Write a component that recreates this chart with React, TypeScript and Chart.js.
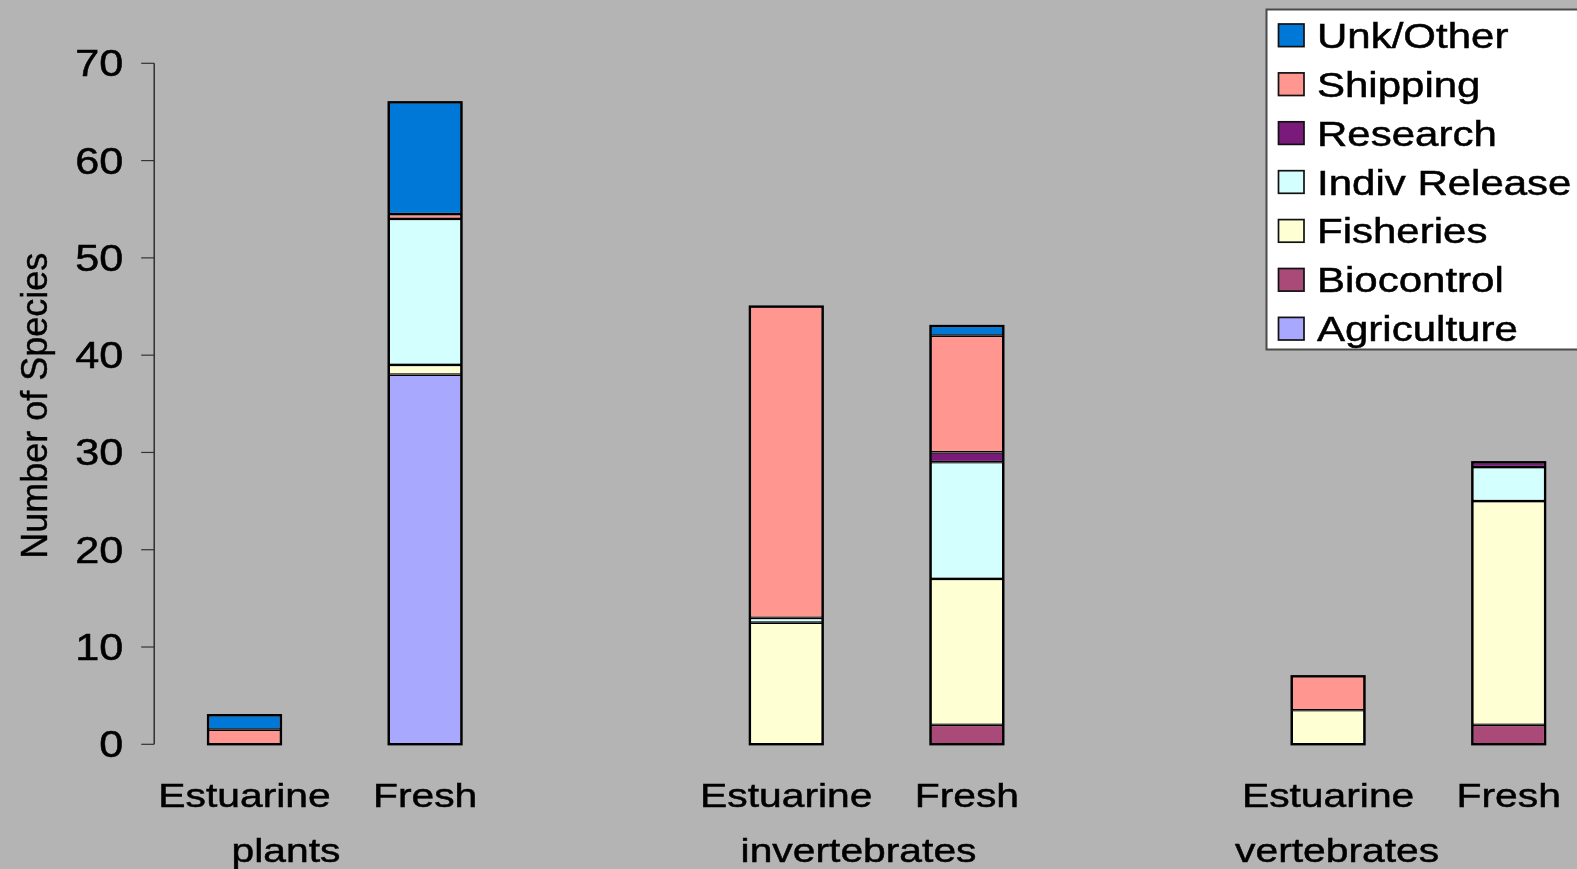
import React, { useEffect, useRef } from "react";
import { Chart, registerables } from "chart.js";

Chart.register(...registerables);

// Category slots along the x axis (blank slots separate the three groups)
const CATEGORIES = ["Estuarine", "Fresh", "", "Estuarine", "Fresh", "", "Estuarine", "Fresh"];
const GROUPS = ["plants", "invertebrates", "vertebrates"];
const Y_TICKS = [0, 10, 20, 30, 40, 50, 60, 70];

// Number of species by introduction vector (stacked bottom to top)
const AGRICULTURE = [null, 38, null, null, null, null, null, null];
const BIOCONTROL = [null, null, null, null, 2, null, null, 2];
const FISHERIES = [null, 1, null, 12.5, 15, null, 3.5, 23];
const INDIV_RELEASE = [null, 15, null, 0.5, 12, null, null, 3.5];
const RESEARCH = [null, null, null, null, 1, null, null, 0.5];
const SHIPPING = [1.5, 0.5, null, 32, 12, null, 3.5, null];
const UNK_OTHER = [1.5, 11.5, null, null, 1, null, null, null];

// Where each group caption sits, in category-index units
const GROUP_AT = [0.23, 3.4, 6.05];

const W = 1620;
const H = 869;
const BG = "#b4b4b4";
const FONT = "'Liberation Sans', Arial, Helvetica, sans-serif";
const STRETCH = 1.2;

function wideText(ctx: CanvasRenderingContext2D, text: string, x: number, y: number, size: number, align: CanvasTextAlign) {
  ctx.save();
  ctx.translate(x, y);
  ctx.scale(STRETCH, 1);
  ctx.font = `${size}px ${FONT}`;
  ctx.textAlign = align;
  ctx.textBaseline = "alphabetic";
  ctx.fillStyle = "#000";
  ctx.strokeStyle = "#000";
  ctx.lineWidth = 0.5;
  ctx.fillText(text, 0, 0);
  ctx.strokeText(text, 0, 0);
  ctx.restore();
}

const decorations = {
  id: "decorations",
  beforeDraw(chart: any) {
    const ctx = chart.ctx as CanvasRenderingContext2D;
    ctx.save();
    ctx.fillStyle = BG;
    ctx.fillRect(0, 0, chart.width, chart.height);
    ctx.restore();
  },
  afterDatasetsDraw(chart: any) {
    // heavier outline around every whole stack
    const ctx = chart.ctx as CanvasRenderingContext2D;
    const metas = chart.getSortedVisibleDatasetMetas();
    CATEGORIES.forEach((_, i) => {
      let top = Infinity;
      let bottom = -Infinity;
      let left = 0;
      let width = 0;
      let found = false;
      for (const meta of metas) {
        const raw = chart.data.datasets[meta.index].data[i];
        if (raw === null || raw === undefined) continue;
        const el = meta.data[i];
        if (!el) continue;
        const p = el.getProps(["x", "y", "base", "width"], true);
        top = Math.min(top, p.y, p.base);
        bottom = Math.max(bottom, p.y, p.base);
        left = p.x - p.width / 2;
        width = p.width;
        found = true;
      }
      if (!found) return;
      ctx.save();
      ctx.strokeStyle = "#000";
      ctx.lineWidth = 2.2;
      ctx.strokeRect(left, top, width, bottom - top);
      ctx.restore();
    });
  },
  afterDraw(chart: any) {
    const ctx = chart.ctx as CanvasRenderingContext2D;
    const xs = chart.scales.x;
    const ys = chart.scales.y;
    const axisX = chart.chartArea.left;

    // value axis line and tick marks
    ctx.save();
    ctx.strokeStyle = "#1a1a1a";
    ctx.lineWidth = 1.3;
    ctx.beginPath();
    ctx.moveTo(axisX, ys.getPixelForValue(Y_TICKS[Y_TICKS.length - 1]));
    ctx.lineTo(axisX, ys.getPixelForValue(0));
    ctx.stroke();
    ctx.strokeStyle = "#333";
    ctx.lineWidth = 1.2;
    for (const t of Y_TICKS) {
      const py = ys.getPixelForValue(t);
      ctx.beginPath();
      ctx.moveTo(axisX - 13, py);
      ctx.lineTo(axisX, py);
      ctx.stroke();
    }
    ctx.restore();

    // tick labels
    for (const t of Y_TICKS) {
      const py = ys.getPixelForValue(t);
      wideText(ctx, String(t), axisX - 31, py + 13, 36, "right");
    }

    // category labels
    const base = ys.getPixelForValue(0);
    CATEGORIES.forEach((c, i) => {
      if (!c) return;
      wideText(ctx, c, xs.getPixelForValue(i), base + 63, 34, "center");
    });

    // group captions
    GROUPS.forEach((g, i) => {
      wideText(ctx, g, xs.getPixelForValue(GROUP_AT[i]), base + 118, 34, "center");
    });

    // y-axis title
    ctx.save();
    ctx.translate(46.6, (ys.top + ys.bottom) / 2 + 2);
    ctx.rotate(-Math.PI / 2);
    ctx.font = `36px ${FONT}`;
    ctx.textAlign = "center";
    ctx.textBaseline = "alphabetic";
    ctx.fillStyle = "#000";
    ctx.strokeStyle = "#000";
    ctx.lineWidth = 0.4;
    ctx.fillText("Number of Species", 0, 0);
    ctx.strokeText("Number of Species", 0, 0);
    ctx.restore();

    // legend box
    const lx = 1266.5;
    const ly = 9.5;
    ctx.save();
    ctx.fillStyle = "#ffffff";
    ctx.strokeStyle = "#4a4a4a";
    ctx.lineWidth = 2;
    ctx.fillRect(lx, ly, W - lx + 10, 340);
    ctx.strokeRect(lx, ly, W - lx + 10, 340);
    ctx.restore();

    const sets = chart.data.datasets.slice().reverse();
    sets.forEach((ds: any, i: number) => {
      const my = 35.3 + i * 48.9;
      ctx.save();
      ctx.fillStyle = ds.backgroundColor;
      ctx.fillRect(1278.5, my - 11.3, 25.5, 22.6);
      ctx.strokeStyle = "#111";
      ctx.lineWidth = 1.7;
      ctx.strokeRect(1278.5, my - 11.3, 25.5, 22.6);
      ctx.restore();
      wideText(ctx, ds.label, 1317, my + 12.5, 35, "left");
    });
  },
};

function makeSet(label: string, data: (number | null)[], color: string) {
  return {
    label,
    data,
    backgroundColor: color,
    borderColor: "#000",
    borderWidth: 1.35,
    borderSkipped: false as const,
    barPercentage: 0.404,
    categoryPercentage: 1,
  };
}

export default function App() {
  const ref = useRef<HTMLCanvasElement | null>(null);

  useEffect(() => {
    if (!ref.current) return;
    const chart = new Chart(ref.current, {
      type: "bar",
      data: {
        labels: CATEGORIES,
        datasets: [
          makeSet("Agriculture", AGRICULTURE, "#a8a8ff"),
          makeSet("Biocontrol", BIOCONTROL, "#aa4a78"),
          makeSet("Fisheries", FISHERIES, "#ffffd4"),
          makeSet("Indiv Release", INDIV_RELEASE, "#d4ffff"),
          makeSet("Research", RESEARCH, "#7a1a7a"),
          makeSet("Shipping", SHIPPING, "#ff9690"),
          makeSet("Unk/Other", UNK_OTHER, "#0078d7"),
        ],
      },
      options: {
        responsive: false,
        animation: false,
        devicePixelRatio: 1,
        layout: { padding: { left: 154.2, right: W - 1599, top: 63.3, bottom: H - 744.3 } },
        plugins: { legend: { display: false }, tooltip: { enabled: false } },
        scales: {
          x: { stacked: true, display: false, offset: true },
          y: { stacked: true, display: false, min: 0, max: 70 },
        },
      },
      plugins: [decorations],
    });
    return () => chart.destroy();
  }, []);

  return (
    <div
      style={{
        position: "fixed",
        left: 0,
        top: 0,
        width: 1577,
        height: 869,
        overflow: "hidden",
        background: BG,
      }}
    >
      <canvas ref={ref} width={W} height={H} style={{ width: W, height: H, display: "block" }} />
    </div>
  );
}
